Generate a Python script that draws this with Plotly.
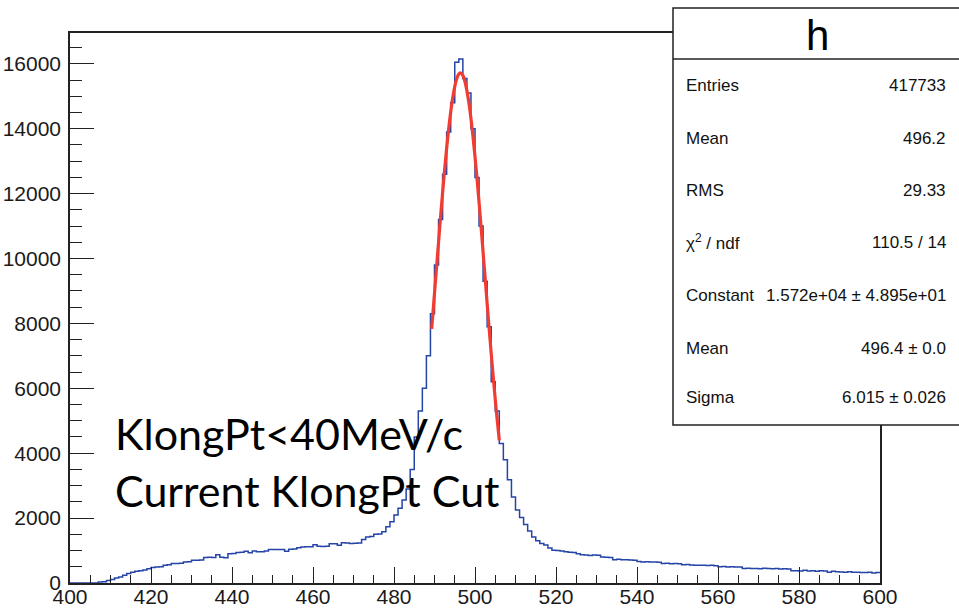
import plotly.graph_objects as go

# ---------------- data ----------------
bin_low_edge_first = 400
bin_width = 1
counts = [
    0, 0, 0, 0, 0, 0, 0, 30, 40, 80,
    110, 155, 185, 240, 290, 330, 360, 380, 400, 440,
    475, 490, 500, 545, 560, 600, 600, 610, 650, 655,
    700, 700, 710, 785, 790, 785, 870, 790, 780, 905,
    910, 940, 945, 980, 930, 990, 960, 965, 990, 1030,
    1030, 1035, 1030, 980, 1040, 1045, 1090, 1110, 1115, 1120,
    1175, 1130, 1125, 1130, 1210, 1210, 1165, 1240, 1235, 1220,
    1225, 1230, 1340, 1420, 1430, 1505, 1510, 1580, 1730, 1890,
    2095, 2300, 2560, 2900, 3500, 4500, 5300, 6000, 7000, 8300,
    9800, 11200, 12600, 13900, 14800, 16050, 16150, 15550, 15100, 14000,
    12500, 11000, 9300, 7900, 6200, 5300, 4300, 3800, 3180, 2650,
    2250, 2020, 1800, 1600, 1420, 1300, 1220, 1170, 1080, 1010,
    1000, 990, 960, 950, 940, 900, 870, 860, 850, 865,
    855, 800, 790, 785, 720, 735, 715, 720, 705, 700,
    660, 650, 655, 645, 650, 640, 600, 605, 595, 600,
    590, 560, 570, 555, 550, 545, 550, 540, 545, 535,
    500, 505, 495, 500, 490, 495, 450, 455, 445, 450,
    440, 455, 445, 440, 450, 435, 440, 430, 380, 375,
    370, 395, 370, 375, 365, 380, 370, 330, 360, 345,
    340, 335, 345, 335, 330, 320, 320, 330, 310, 320,
]

fit_x = [489.3, 489.5, 490.0, 490.5, 491.0, 491.5, 492.0, 492.5, 493.0, 493.5,
         494.0, 494.5, 495.0, 495.5, 496.0, 496.4, 497.0, 497.5, 498.0, 498.5,
         499.0, 499.5, 500.0, 500.5, 501.0, 501.5, 502.0, 502.5, 503.0, 503.5,
         504.0, 504.5, 505.0, 505.5, 506.0]
fit_y = [7832, 8141, 8924, 9716, 10506, 11281, 12029, 12739, 13398, 13995,
         14517, 14955, 15300, 15545, 15685, 15720, 15642, 15459, 15173, 14791,
         14318, 13764, 13142, 12461, 11735, 10973, 10191, 9400, 8610, 7832,
         7076, 6349, 5656, 5005, 4398]

stats_title = "h"
stats_labels = ["Entries", "Mean", "RMS", "χ<sup>2</sup> / ndf", "Constant", "Mean", "Sigma"]
stats_values = ["417733", "496.2", "29.33", "110.5 / 14",
                "1.572e+04 ± 4.895e+01", "496.4 ± 0.0", "6.015 ± 0.026"]
note_lines = ["KlongPt<40MeV/c", "Current KlongPt Cut"]

# ---------------- geometry helpers ----------------
W, H = 959, 610
L, R, T, B = 70, 880, 33, 583


def px(x):
    return (x - L) / (R - L)


def py(y):
    return (B - y) / (B - T)


edges = [bin_low_edge_first + i * bin_width for i in range(len(counts) + 1)]
hx = edges
hy = counts + [counts[-1]]

fig = go.Figure()
fig.add_trace(go.Scatter(x=hx, y=hy, mode="lines", line=dict(color="#2444a8", width=1.5, shape="hv"),
                         hoverinfo="skip", showlegend=False))
fig.add_trace(go.Scatter(x=fit_x, y=fit_y, mode="lines", line=dict(color="#f03c32", width=3.2, shape="spline"),
                         hoverinfo="skip", showlegend=False))

tickfont = dict(family="Liberation Sans, Arial, sans-serif", size=21, color="#1a1a1a")

fig.update_layout(
    template="none",
    width=W, height=H,
    margin=dict(l=L, r=W - R, t=T, b=H - B, pad=0),
    paper_bgcolor="white", plot_bgcolor="white",
    showlegend=False,
    xaxis=dict(range=[400, 600], dtick=20, tick0=400, ticks="inside", ticklen=16, tickwidth=1.2,
               tickcolor="#222", showline=True, linecolor="#222", linewidth=1.5, mirror=True,
               showgrid=False, zeroline=False, tickfont=tickfont, automargin=False,
               ticklabelstandoff=-6,
               minor=dict(dtick=5, ticks="inside", ticklen=8, tickwidth=1.2, tickcolor="#222", showgrid=False)),
    yaxis=dict(range=[0, 16950], dtick=2000, tick0=0, ticks="inside", ticklen=24, tickwidth=1.2,
               tickcolor="#222", showline=True, linecolor="#222", linewidth=1.5, mirror=True,
               showgrid=False, zeroline=False, tickfont=tickfont, automargin=False,
               tickformat="d", ticklabelstandoff=3,
               minor=dict(dtick=500, ticks="inside", ticklen=12, tickwidth=1.2, tickcolor="#222", showgrid=False)),
)

# stats box
box_l, box_r, box_t, box_b, head_b = 673, 965, 8, 425, 59
fig.add_shape(type="rect", xref="paper", yref="paper", x0=px(box_l), x1=px(box_r), y0=py(box_b), y1=py(box_t),
              line=dict(color="#222", width=1.5), fillcolor="white", layer="above")
fig.add_shape(type="line", xref="paper", yref="paper", x0=px(box_l), x1=px(box_r), y0=py(head_b), y1=py(head_b),
              line=dict(color="#222", width=1.5), layer="above")
fig.add_annotation(xref="paper", yref="paper", x=px(817), y=py(35), text=stats_title, showarrow=False,
                   xanchor="center", yanchor="middle",
                   font=dict(family="Liberation Sans, Arial, sans-serif", size=42, color="black"))
row_y = [86, 138, 191, 242, 295, 348, 398]
sfont = dict(family="Liberation Sans, Arial, sans-serif", size=17, color="#111")
for lab, val, yy in zip(stats_labels, stats_values, row_y):
    fig.add_annotation(xref="paper", yref="paper", x=px(684), y=py(yy), text=lab, showarrow=False,
                       xanchor="left", yanchor="middle", font=sfont)
    fig.add_annotation(xref="paper", yref="paper", x=px(948), y=py(yy), text=val, showarrow=False,
                       xanchor="right", yanchor="middle", font=sfont)

# overlay note text
nfont = dict(family="Lato, Carlito, Calibri, sans-serif", size=43, color="black")
for line, yy in zip(note_lines, [434, 490]):
    fig.add_annotation(xref="paper", yref="paper", x=px(113), y=py(yy), text=line, showarrow=False,
                       xanchor="left", yanchor="middle", font=nfont)

fig.write_html("out.html")
